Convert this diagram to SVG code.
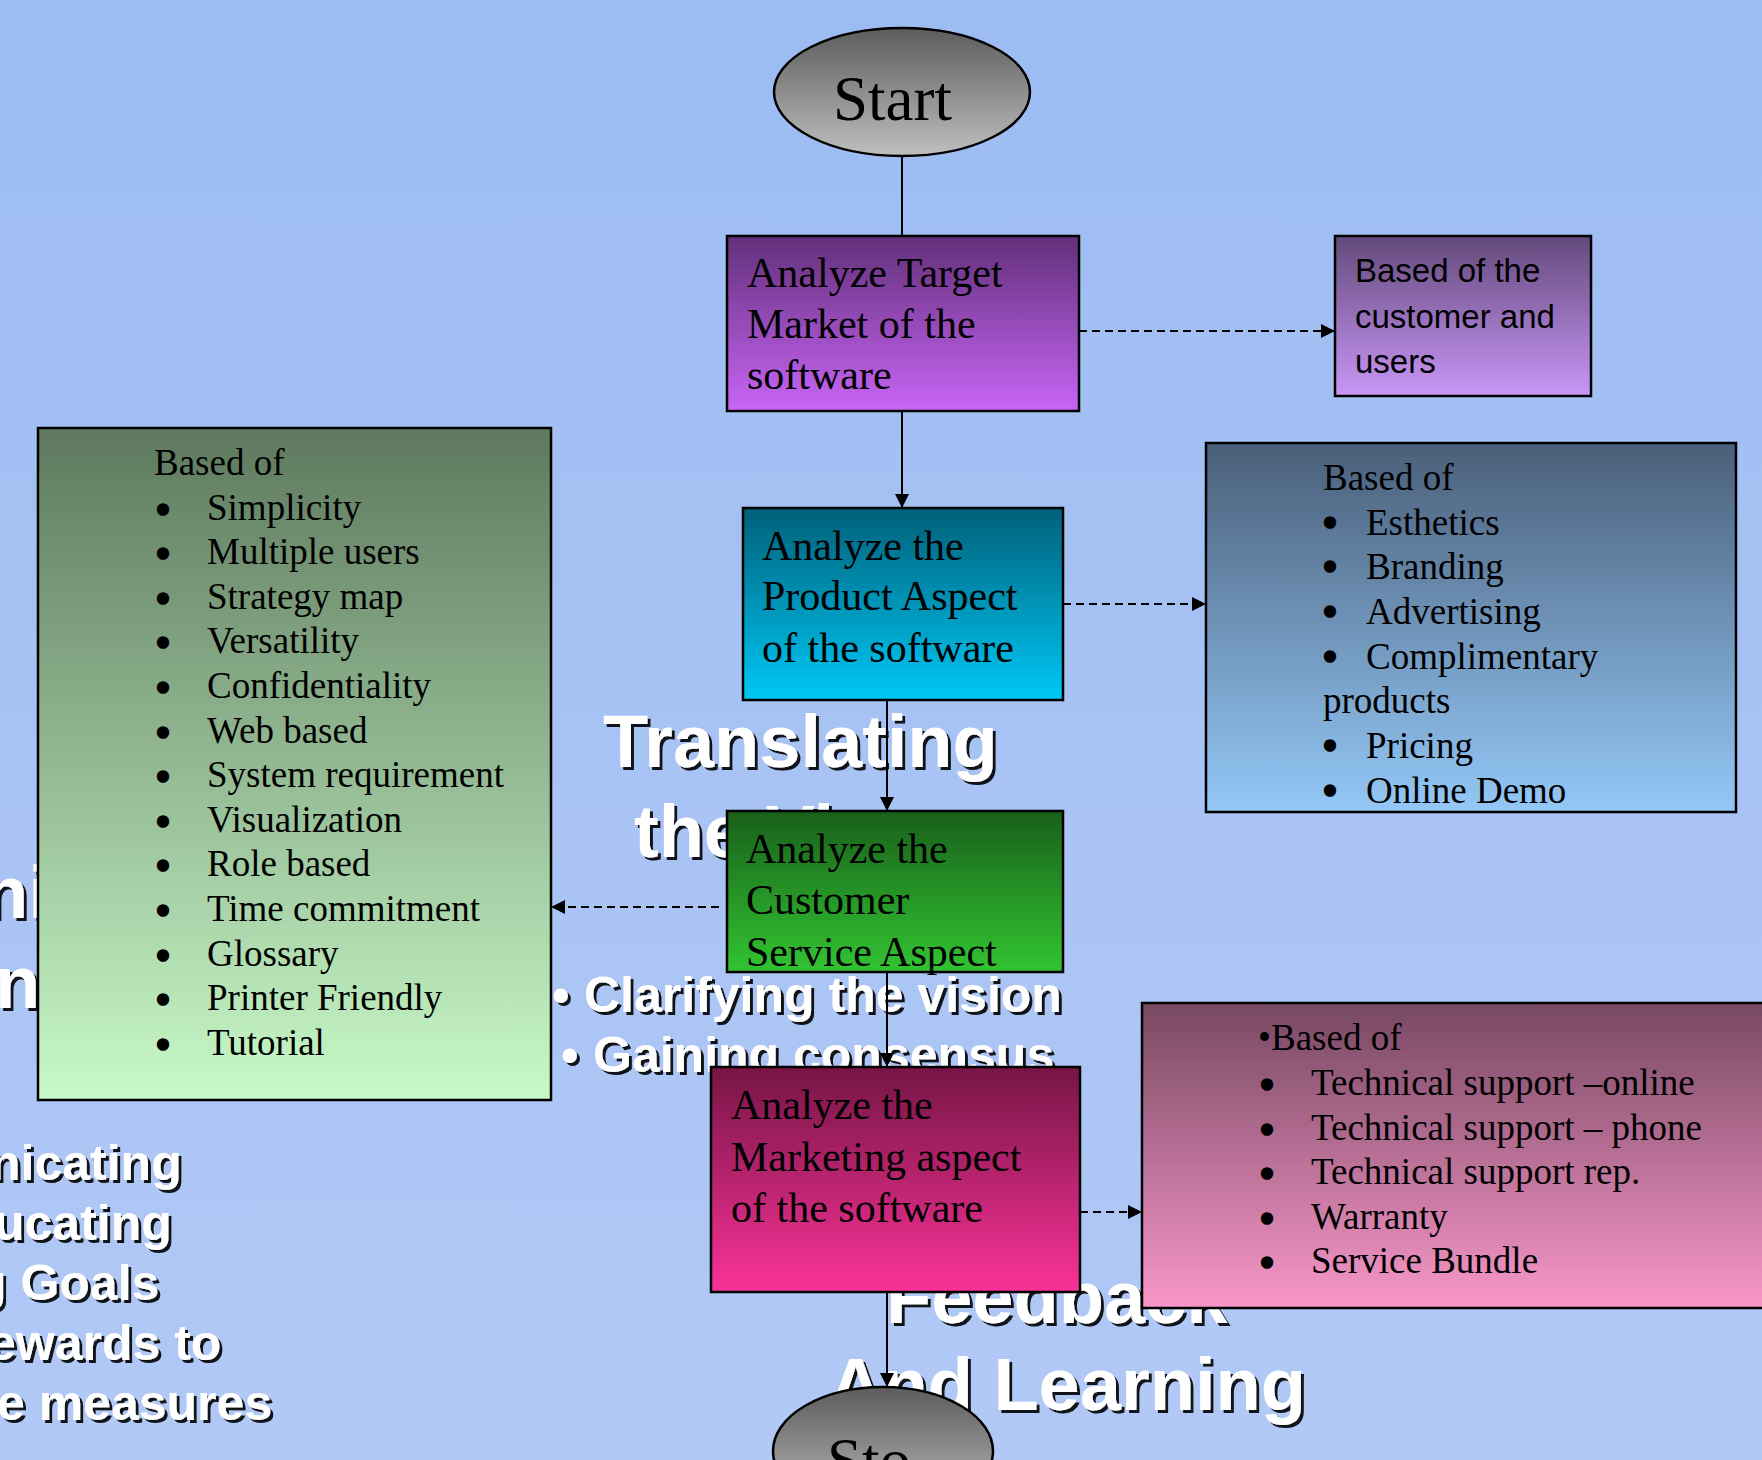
<svg xmlns="http://www.w3.org/2000/svg" width="1762" height="1460" viewBox="0 0 1762 1460">
  <defs>
    <linearGradient id="gBack" x1="0" y1="0" x2="0" y2="1">
      <stop offset="0" stop-color="#9cbcf2"/>
      <stop offset="1" stop-color="#b2c9f6"/>
    </linearGradient>
    <linearGradient id="gGrey" x1="0" y1="0" x2="0" y2="1">
      <stop offset="0" stop-color="#5c5c5c"/>
      <stop offset="1" stop-color="#bfbfbf"/>
    </linearGradient>
    <linearGradient id="gViolet" x1="0" y1="0" x2="0" y2="1">
      <stop offset="0" stop-color="#62307a"/>
      <stop offset="1" stop-color="#c865f6"/>
    </linearGradient>
    <linearGradient id="gLilac" x1="0" y1="0" x2="0" y2="1">
      <stop offset="0" stop-color="#634a7b"/>
      <stop offset="1" stop-color="#c996f7"/>
    </linearGradient>
    <linearGradient id="gTeal" x1="0" y1="0" x2="0" y2="1">
      <stop offset="0" stop-color="#006079"/>
      <stop offset="1" stop-color="#00c8f6"/>
    </linearGradient>
    <linearGradient id="gSteel" x1="0" y1="0" x2="0" y2="1">
      <stop offset="0" stop-color="#4a5f79"/>
      <stop offset="1" stop-color="#94c8f7"/>
    </linearGradient>
    <linearGradient id="gGreen" x1="0" y1="0" x2="0" y2="1">
      <stop offset="0" stop-color="#19601a"/>
      <stop offset="1" stop-color="#32c432"/>
    </linearGradient>
    <linearGradient id="gSage" x1="0" y1="0" x2="0" y2="1">
      <stop offset="0" stop-color="#5e795e"/>
      <stop offset="1" stop-color="#c8f9c8"/>
    </linearGradient>
    <linearGradient id="gMagenta" x1="0" y1="0" x2="0" y2="1">
      <stop offset="0" stop-color="#761545"/>
      <stop offset="1" stop-color="#fa3298"/>
    </linearGradient>
    <linearGradient id="gRose" x1="0" y1="0" x2="0" y2="1">
      <stop offset="0" stop-color="#774862"/>
      <stop offset="1" stop-color="#f897c9"/>
    </linearGradient>
    <marker id="arrow" viewBox="0 0 14 14" refX="14" refY="7" markerWidth="14" markerHeight="14" markerUnits="userSpaceOnUse" orient="auto">
      <path d="M0,0 L14,7 L0,14 z" fill="#000"/>
    </marker>
    <filter id="shadow" x="-10%" y="-20%" width="125%" height="150%">
      <feDropShadow dx="3" dy="3" stdDeviation="0" flood-color="#000" flood-opacity="0.9"/>
    </filter>
  </defs>

  <style>
    .node { stroke: #000; stroke-width: 2.5; }
    .serif { font-family: "Liberation Serif", "Times New Roman", serif; fill: #000; }
    .sans { font-family: "Liberation Sans", Arial, sans-serif; fill: #000; }
    .big { font-size: 42px; }
    .list { font-size: 37px; }
    .dot { stroke: #000; stroke-width: 3.5; stroke-linejoin: round; }
    .bg { font-family: "Liberation Sans", Arial, sans-serif; font-weight: bold; fill: #fff; filter: url(#shadow); }
    .t74 { font-size: 74px; }
    .t50 { font-size: 50px; }
    .link { fill: none; stroke: #000; stroke-width: 2; }
    .dash { stroke-dasharray: 8 5; }
  </style>

  <!-- backdrop -->
  <rect x="0" y="0" width="1762" height="1460" fill="url(#gBack)"/>

  <!-- faded slide headings behind the flowchart -->
  <g id="backdrop-text" class="bg">
    <text class="t74" x="603" y="767">Translating</text>
    <text class="t74" x="634" y="857">the Vi</text>
    <text class="t74" x="-17" y="918">ni</text>
    <text class="t74" x="-5" y="1008">n</text>
    <text class="t50" y="1012"><tspan x="552">•</tspan><tspan x="584">Clarifying the vision</tspan></text>
    <text class="t50" y="1072"><tspan x="561">•</tspan><tspan x="593">Gaining consensus</tspan></text>
    <text class="t50" x="-10" y="1180">nicating</text>
    <text class="t50" x="-6" y="1240">ucating</text>
    <text class="t50" x="-24" y="1300">g Goals</text>
    <text class="t50" x="-12" y="1360">ewards to</text>
    <text class="t50" x="-3" y="1420">e measures</text>
    <text class="t74" x="886" y="1323">Feedback</text>
    <text class="t74" x="829" y="1410">And Learning</text>
  </g>

  <!-- connectors -->
  <g id="connectors">
    <path class="link" d="M902,156 V236"/>
    <path class="link" d="M902,411 V508" marker-end="url(#arrow)"/>
    <path class="link dash" d="M1079,331 H1335" marker-end="url(#arrow)"/>
    <path class="link dash" d="M1063,604 H1206" marker-end="url(#arrow)"/>
    <path class="link" d="M887,700 V811" marker-end="url(#arrow)"/>
    <path class="link dash" d="M719,907 H551" marker-end="url(#arrow)"/>
    <path class="link" d="M887,972 V1067" marker-end="url(#arrow)"/>
    <path class="link dash" d="M1080,1212 H1142" marker-end="url(#arrow)"/>
    <path class="link" d="M887,1292 V1387" marker-end="url(#arrow)"/>
  </g>

  <!-- start terminator -->
  <g id="start">
    <ellipse class="node" cx="902" cy="92" rx="128" ry="64" fill="url(#gGrey)" stroke-width="2"/>
    <text class="serif" x="833" y="120" font-size="63">Start</text>
  </g>

  <!-- analyze target market -->
  <g id="target-market">
    <rect class="node" x="727" y="236" width="352" height="175" fill="url(#gViolet)"/>
    <text class="serif big" x="747" y="287">Analyze Target</text>
    <text class="serif big" x="747" y="338">Market of the</text>
    <text class="serif big" x="747" y="389">software</text>
  </g>

  <!-- customer / user note -->
  <g id="customer-users">
    <rect class="node" x="1335" y="236" width="256" height="160" fill="url(#gLilac)"/>
    <text class="sans" x="1355" y="282" font-size="33">Based of the</text>
    <text class="sans" x="1355" y="328" font-size="33">customer and</text>
    <text class="sans" x="1355" y="373" font-size="33">users</text>
  </g>

  <!-- product aspect -->
  <g id="product-aspect">
    <rect class="node" x="743" y="508" width="320" height="192" fill="url(#gTeal)"/>
    <text class="serif big" x="762" y="560">Analyze the</text>
    <text class="serif big" x="762" y="610">Product Aspect</text>
    <text class="serif big" x="762" y="662">of the software</text>
  </g>

  <!-- product criteria -->
  <g id="product-criteria" class="serif list">
    <rect class="node" x="1206" y="443" width="530" height="369" fill="url(#gSteel)"/>
    <text x="1323" y="490">Based of</text>
    <text y="535"><tspan class="dot" x="1323.5" dy="0.6">•</tspan><tspan x="1366" dy="-0.6">Esthetics</tspan></text>
    <text y="579"><tspan class="dot" x="1323.5" dy="0.6">•</tspan><tspan x="1366" dy="-0.6">Branding</tspan></text>
    <text y="624"><tspan class="dot" x="1323.5" dy="0.6">•</tspan><tspan x="1366" dy="-0.6">Advertising</tspan></text>
    <text y="669"><tspan class="dot" x="1323.5" dy="0.6">•</tspan><tspan x="1366" dy="-0.6">Complimentary</tspan></text>
    <text x="1323" y="713">products</text>
    <text y="758"><tspan class="dot" x="1323.5" dy="0.6">•</tspan><tspan x="1366" dy="-0.6">Pricing</tspan></text>
    <text y="803"><tspan class="dot" x="1323.5" dy="0.6">•</tspan><tspan x="1366" dy="-0.6">Online Demo</tspan></text>
  </g>

  <!-- customer service aspect -->
  <g id="service-aspect">
    <rect class="node" x="727" y="811" width="336" height="161" fill="url(#gGreen)"/>
    <text class="serif big" x="746" y="863">Analyze the</text>
    <text class="serif big" x="746" y="914">Customer</text>
    <text class="serif big" x="746" y="966">Service Aspect</text>
  </g>

  <!-- service criteria -->
  <g id="service-criteria" class="serif list">
    <rect class="node" x="38" y="428" width="513" height="672" fill="url(#gSage)"/>
    <text x="154" y="475">Based of</text>
    <text y="520"><tspan class="dot" x="156.5" dy="2.6">•</tspan><tspan x="207" dy="-2.6">Simplicity</tspan></text>
    <text y="564"><tspan class="dot" x="156.5" dy="2.6">•</tspan><tspan x="207" dy="-2.6">Multiple users</tspan></text>
    <text y="609"><tspan class="dot" x="156.5" dy="2.6">•</tspan><tspan x="207" dy="-2.6">Strategy map</tspan></text>
    <text y="653"><tspan class="dot" x="156.5" dy="2.6">•</tspan><tspan x="207" dy="-2.6">Versatility</tspan></text>
    <text y="698"><tspan class="dot" x="156.5" dy="2.6">•</tspan><tspan x="207" dy="-2.6">Confidentiality</tspan></text>
    <text y="743"><tspan class="dot" x="156.5" dy="2.6">•</tspan><tspan x="207" dy="-2.6">Web based</tspan></text>
    <text y="787"><tspan class="dot" x="156.5" dy="2.6">•</tspan><tspan x="207" dy="-2.6">System requirement</tspan></text>
    <text y="832"><tspan class="dot" x="156.5" dy="2.6">•</tspan><tspan x="207" dy="-2.6">Visualization</tspan></text>
    <text y="876"><tspan class="dot" x="156.5" dy="2.6">•</tspan><tspan x="207" dy="-2.6">Role based</tspan></text>
    <text y="921"><tspan class="dot" x="156.5" dy="2.6">•</tspan><tspan x="207" dy="-2.6">Time commitment</tspan></text>
    <text y="966"><tspan class="dot" x="156.5" dy="2.6">•</tspan><tspan x="207" dy="-2.6">Glossary</tspan></text>
    <text y="1010"><tspan class="dot" x="156.5" dy="2.6">•</tspan><tspan x="207" dy="-2.6">Printer Friendly</tspan></text>
    <text y="1055"><tspan class="dot" x="156.5" dy="2.6">•</tspan><tspan x="207" dy="-2.6">Tutorial</tspan></text>
  </g>

  <!-- marketing aspect -->
  <g id="marketing-aspect">
    <rect class="node" x="711" y="1067" width="369" height="225" fill="url(#gMagenta)"/>
    <text class="serif big" x="731" y="1119">Analyze the</text>
    <text class="serif big" x="731" y="1171">Marketing aspect</text>
    <text class="serif big" x="731" y="1222">of the software</text>
  </g>

  <!-- support criteria -->
  <g id="support-criteria" class="serif list">
    <rect class="node" x="1142" y="1003" width="640" height="305" fill="url(#gRose)"/>
    <text x="1258" y="1050">•Based of</text>
    <text y="1095"><tspan class="dot" x="1260.5" dy="2.6">•</tspan><tspan x="1311" dy="-2.6">Technical support –online</tspan></text>
    <text y="1140"><tspan class="dot" x="1260.5" dy="2.6">•</tspan><tspan x="1311" dy="-2.6">Technical support – phone</tspan></text>
    <text y="1184"><tspan class="dot" x="1260.5" dy="2.6">•</tspan><tspan x="1311" dy="-2.6">Technical support rep.</tspan></text>
    <text y="1229"><tspan class="dot" x="1260.5" dy="2.6">•</tspan><tspan x="1311" dy="-2.6">Warranty</tspan></text>
    <text y="1273"><tspan class="dot" x="1260.5" dy="2.6">•</tspan><tspan x="1311" dy="-2.6">Service Bundle</tspan></text>
  </g>

  <!-- stop terminator -->
  <g id="stop">
    <ellipse class="node" cx="883" cy="1451" rx="110" ry="64" fill="url(#gGrey)" stroke-width="2"/>
    <text class="serif" x="827" y="1482" font-size="63">Sto</text>
  </g>
</svg>
